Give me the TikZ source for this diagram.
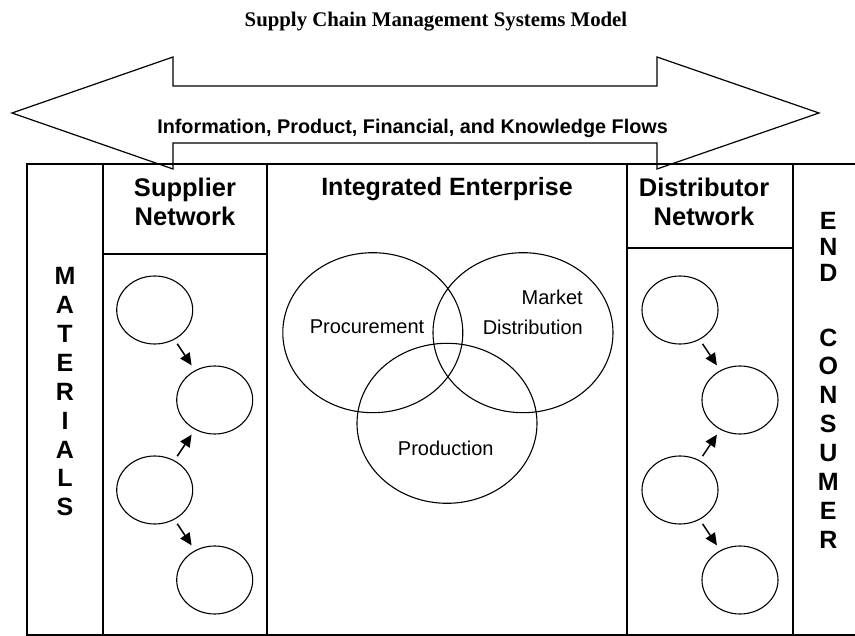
\documentclass[tikz,border=0pt]{standalone}
\usepackage{fontspec}
\setmainfont{Liberation Serif}
\newfontfamily\arialf{Liberation Sans}
\usetikzlibrary{arrows.meta,shapes.geometric}
\begin{document}
\begin{tikzpicture}[x=1pt,y=-1pt,
  box/.style={draw, line width=1.5pt},
  netnode/.style={ellipse, draw, line width=1.1pt, minimum width=76pt, minimum height=68pt, inner sep=0pt},
  venn/.style={ellipse, draw, line width=1.1pt, minimum width=180pt, minimum height=160pt, inner sep=0pt},
  flowarrow/.style={-{Triangle[length=12pt,width=11pt]}, line width=1.5pt, shorten <=5pt, shorten >=6pt},
  head/.style={font=\arialf\bfseries\fontsize{25.5}{29.3}\selectfont, align=center, inner sep=0pt},
  vert/.style={font=\arialf\bfseries\fontsize{25}{28.9}\selectfont, align=center, inner sep=0pt, anchor=base},
  vlabel/.style={font=\arialf\fontsize{20}{30}\selectfont, inner sep=0pt, anchor=base}
]
\useasboundingbox (0,0) rectangle (855,636);
\fill[white] (0,0) rectangle (855,636);

% title
\node[font=\bfseries\fontsize{20.8}{24}\selectfont, anchor=base, inner sep=0pt] (title) at (436,27) {Supply Chain Management Systems Model};

% columns
\draw[box] (27,164) rectangle (103,635);
\draw[box] (103,164) rectangle (267,254);
\draw[box] (103,254) rectangle (267,635);
\draw[box] (267,164) rectangle (627,635);
\draw[box] (627,164) rectangle (793,248);
\draw[box] (627,248) rectangle (793,635);
\draw[box] (855,164) -- (793,164) -- (793,635) -- (855,635);

% big double arrow
\draw[line width=1.2pt, line join=miter] (12,113) -- (173,57) -- (173,86) -- (657,86) -- (657,57) -- (819,113) -- (657,169) -- (657,143) -- (173,143) -- (173,169) -- cycle;
\node[font=\arialf\bfseries\fontsize{19.8}{22}\selectfont, anchor=base, inner sep=0pt] (flows) at (412.5,133.5) {Information, Product, Financial, and Knowledge Flows};

% headers (anchor base = last line)
\node[head, anchor=base] (supplier) at (185,226) {Supplier\\Network};
\node[head, anchor=base, font=\arialf\bfseries\fontsize{25}{29.3}\selectfont] (enterprise) at (447,195.5) {Integrated Enterprise};
\node[head, anchor=base] (distributor) at (704,225.5) {Distributor\\Network};

% vertical labels (anchor base = last line)
\node[vert] (materials) at (65,515.9) {M\\A\\T\\E\\R\\I\\A\\L\\S};
\node[vert, font=\arialf\bfseries\fontsize{25}{26}\selectfont] (endw) at (828.3,282) {E\\N\\D};
\node[vert] (consumer) at (828.3,548.3) {C\\O\\N\\S\\U\\M\\E\\R};

% supplier network
\node[netnode] (s1) at (154.7,310) {};
\node[netnode] (s2) at (214.7,400) {};
\node[netnode] (s3) at (154.7,490) {};
\node[netnode] (s4) at (214.7,580) {};
\draw[flowarrow] (s1) -- (s2);
\draw[flowarrow] (s3) -- (s2);
\draw[flowarrow] (s3) -- (s4);

% distributor network
\node[netnode] (d1) at (680,310) {};
\node[netnode] (d2) at (740,400) {};
\node[netnode] (d3) at (680,490) {};
\node[netnode] (d4) at (740,580) {};
\draw[flowarrow] (d1) -- (d2);
\draw[flowarrow] (d3) -- (d2);
\draw[flowarrow] (d3) -- (d4);

% venn
\node[venn] (procE) at (372.8,332.7) {};
\node[venn] (markE) at (523,332.7) {};
\node[venn] (prodE) at (447,423.3) {};
\node[vlabel] (procT) at (367,333.3) {Procurement};
\node[vlabel, align=right, anchor=base east] (markT) at (583,335) {Market\\Distribution};
\node[vlabel] (prodT) at (445.8,456) {Production};
\end{tikzpicture}
\end{document}
